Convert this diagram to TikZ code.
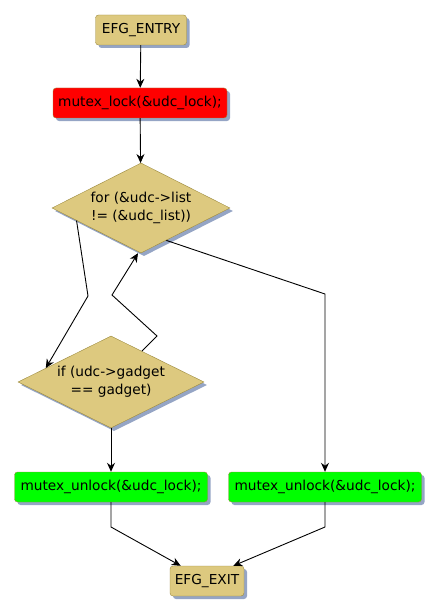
\documentclass[tikz,border=0pt]{standalone}
\usepackage{fontspec}
\setmainfont{DejaVu Sans}
\usetikzlibrary{shapes.geometric}
\usetikzlibrary{shadows}
\usetikzlibrary{arrows.meta}
\definecolor{tanfill}{HTML}{DDC97F}
\definecolor{tanedge}{HTML}{9C8A3E}
\definecolor{shade}{HTML}{95A5C5}
\definecolor{lockred}{HTML}{FF0000}
\definecolor{unlockgreen}{HTML}{00FF00}
\tikzset{
    flowfont/.style={font=\fontsize{13.7}{18}\selectfont},
    block/.style={
        rectangle,
        rounded corners=3pt,
        draw=tanedge,
        fill=tanfill,
        minimum height=30pt,
        inner sep=0pt,
        flowfont,
        drop shadow={shadow xshift=3pt, shadow yshift=-3pt, fill=shade, opacity=1}
    },
    decision/.style={
        diamond,
        aspect=2.1,
        draw=tanedge,
        fill=tanfill,
        inner sep=0pt,
        align=center,
        flowfont,
        drop shadow={shadow xshift=3pt, shadow yshift=-3pt, fill=shade, opacity=1}
    },
    flow/.style={-{Stealth[length=9pt,width=8pt]}, line width=0.9pt, black},
}

\begin{document}
\begin{tikzpicture}[x=1pt, y=-1pt]
    \useasboundingbox (0,0) rectangle (439,615);

    % blocks
    \node[block, minimum width=91pt] (entry) at (141,30) {EFG\_ENTRY};
    \node[block, minimum width=174pt, fill=lockred] (lock) at (140,103) {mutex\_lock(\&udc\_lock);};
    \node[decision, minimum width=178pt, minimum height=90pt] (loop) at (141,208) {for (\&udc->list\\!= (\&udc\_list))};
    \node[decision, minimum width=186pt, minimum height=92pt] (cond) at (111,382) {if (udc->gadget\\== gadget)};
    \node[block, minimum width=193pt, fill=unlockgreen] (unlockA) at (111,487) {mutex\_unlock(\&udc\_lock);};
    \node[block, minimum width=193pt, fill=unlockgreen] (unlockB) at (325,487) {mutex\_unlock(\&udc\_lock);};
    \node[block, minimum width=74pt] (exit) at (207,581) {EFG\_EXIT};

    % edges
    \draw[flow] (entry) -- (lock);
    \draw[flow] (lock) -- (loop);
    \draw[flow] (loop.191) -- (88,296) -- (cond.168);
    \draw[flow] (cond.45) -- (157,336) -- (112,295) -- ([xshift=-3pt]loop.south);
    \draw[flow] (loop.308) -- (325,294) -- (unlockB.north);
    \draw[flow] (cond) -- (unlockA);
    \draw[flow] (unlockA.south) -- (111,527) -- (exit.150);
    \draw[flow] (unlockB.south) -- (325,527) -- (exit.30);
\end{tikzpicture}
\end{document}
